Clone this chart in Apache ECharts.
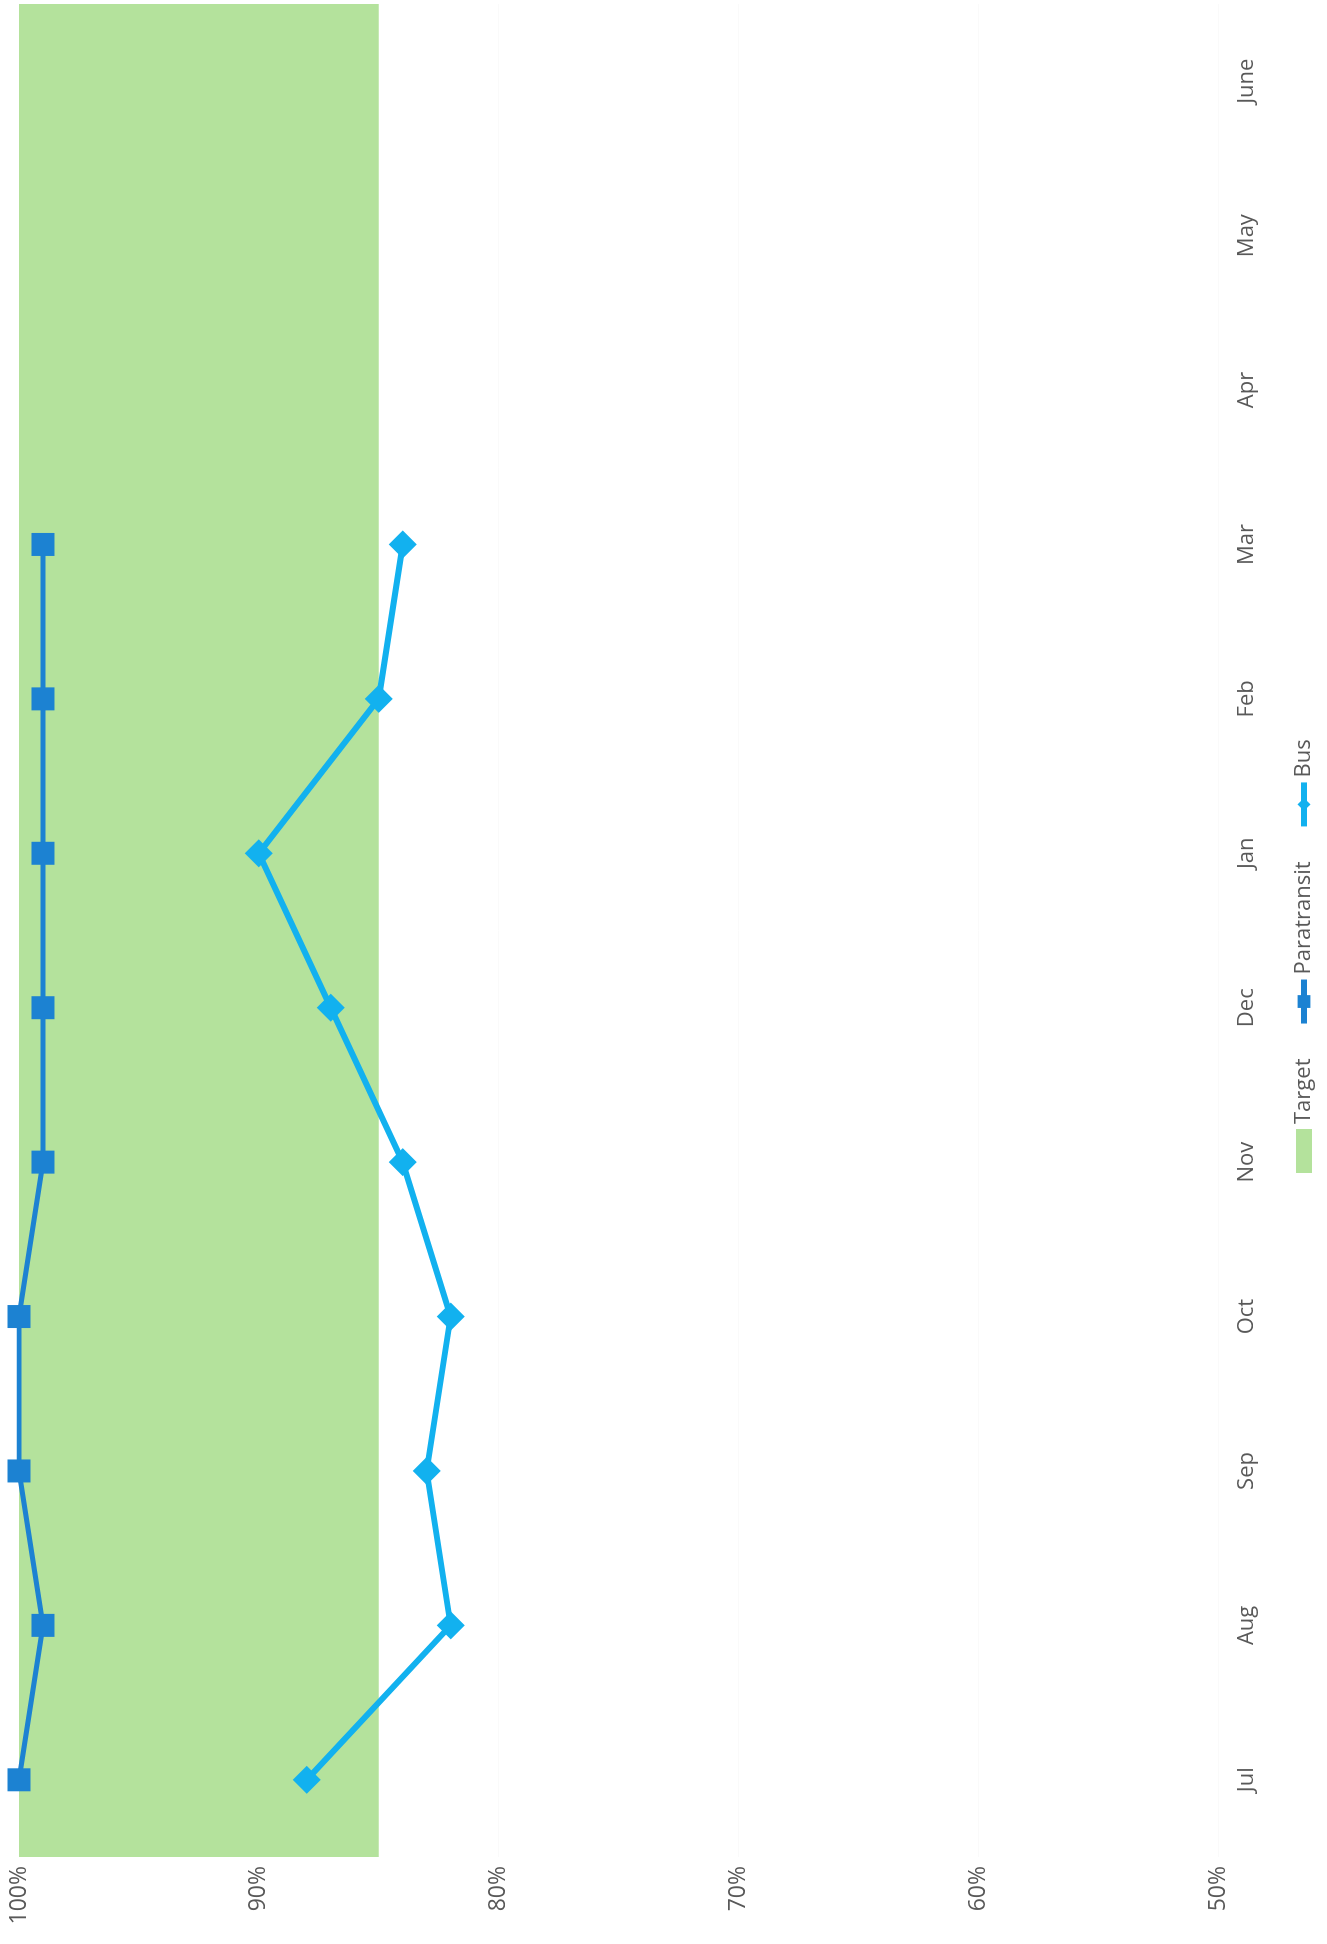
<!DOCTYPE html>
<html>
<head>
<meta charset="utf-8">
<script src="https://cdn.jsdelivr.net/npm/echarts@6/dist/echarts.min.js"></script>
<style>
  html, body { margin: 0; padding: 0; background: #fff; overflow: hidden; }
  /* the chart is drawn upright, then turned a quarter to the left like the scan */
  #chart {
    position: absolute; left: 0; top: 0;
    width: 1944px; height: 1327px;
    transform-origin: 0 0;
    transform: translateY(1944px) rotate(-90deg);
  }
</style>
</head>
<body>
<div id="chart"></div>
<script>
// 月份 / 数值
var months = ['Jul', 'Aug', 'Sep', 'Oct', 'Nov', 'Dec', 'Jan', 'Feb', 'Mar', 'Apr', 'May', 'June'];
var paratransit = [100, 99, 100, 100, 99, 99, 99, 99, 99];
var bus = [88, 82, 83, 82, 84, 87, 90, 85, 84];
var targetLow = 85;
var targetHigh = 100;
var pctTicks = [50, 60, 70, 80, 90, 100];

var chart = echarts.init(document.getElementById('chart'));

var option = {
  backgroundColor: '#ffffff',
  textStyle: { fontFamily: 'Open Sans' },
  grid: {
    left: 87, right: 4, top: 19, bottom: 109,
    containLabel: false,
    outerBoundsMode: 'none'
  },
  legend: {
    left: 766,
    top: 1288,
    itemWidth: 44,
    itemHeight: 16,
    itemGap: 32,
    textStyle: { fontSize: 22, color: '#595959', fontFamily: 'Open Sans' },
    data: [
      { name: 'Target', icon: 'rect' },
      { name: 'Paratransit', lineStyle: { width: 6 } },
      { name: 'Bus', lineStyle: { width: 6 } }
    ]
  },
  xAxis: {
    type: 'category',
    data: months,
    boundaryGap: true,
    axisLine: { show: false },
    axisTick: { show: false },
    axisLabel: { fontSize: 22, color: '#595959', margin: 18 }
  },
  yAxis: {
    type: 'value',
    min: pctTicks[0],
    max: pctTicks[pctTicks.length - 1],
    interval: 10,
    axisLine: { show: false },
    axisTick: { show: false },
    splitLine: { show: true, lineStyle: { color: '#fafafa', width: 1 } },
    axisLabel: { formatter: '{value}%', fontSize: 23, color: '#595959', margin: 9 }
  },
  series: [
    {
      name: 'Target',
      type: 'line',
      data: [],
      itemStyle: { color: '#b4e29c' },
      lineStyle: { color: '#b4e29c' },
      z: 1,
      markArea: {
        silent: true,
        itemStyle: { color: '#b4e29c', opacity: 1 },
        data: [[{ yAxis: targetLow }, { yAxis: targetHigh }]]
      }
    },
    {
      name: 'Paratransit',
      type: 'line',
      data: paratransit,
      symbol: 'rect',
      symbolSize: 23,
      showAllSymbol: true,
      itemStyle: { color: '#1c82d2' },
      lineStyle: { color: '#1c82d2', width: 5 },
      z: 3
    },
    {
      name: 'Bus',
      type: 'line',
      data: bus,
      symbol: 'diamond',
      symbolSize: 28,
      showAllSymbol: true,
      itemStyle: { color: '#12b1ef' },
      lineStyle: { color: '#12b1ef', width: 6 },
      z: 4
    }
  ]
};

chart.setOption(option);
</script>
</body>
</html>
